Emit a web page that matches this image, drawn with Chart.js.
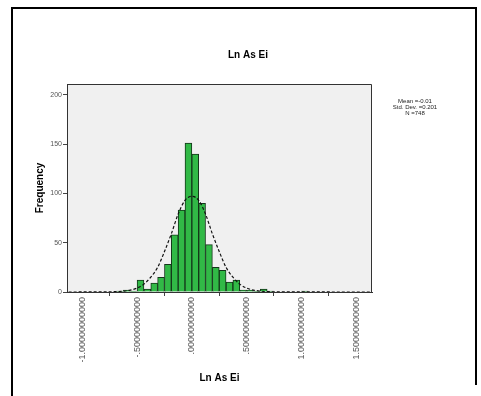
<!DOCTYPE html>
<html>
<head>
<title>Ln As Ei</title>
<script src="https://cdn.jsdelivr.net/npm/chart.js@4.4.0/dist/chart.umd.min.js"></script>
<style>
	body { margin: 0; background: #fff; }
	#wrap { position: relative; width: 481px; height: 396px; }
</style>
</head>
<body>
<div id="wrap"><canvas id="myChart" width="481" height="396"></canvas></div>
<script>
// histogram bins (left edge) and their frequencies
const binWidth = 0.0625;
const binStart = [-0.6875, -0.625, -0.5625, -0.5, -0.4375, -0.375, -0.3125, -0.25, -0.1875, -0.125, -0.0625, 0,
	0.0625, 0.125, 0.1875, 0.25, 0.3125, 0.375, 0.4375, 0.5, 0.5625, 0.625, 0.6875, 1.0];
const counts = [1, 2, 1, 12, 3, 9, 15, 28, 58, 83, 151, 140,
	90, 48, 25, 22, 10, 12, 2, 2, 1, 3, 1, 1];

// normal curve
const curveX = [-1.125, -0.75, -0.6875, -0.625, -0.5625, -0.5, -0.4375, -0.375, -0.3125, -0.25, -0.1875, -0.125, -0.0625, 0,
	0.0625, 0.125, 0.1875, 0.25, 0.3125, 0.375, 0.4375, 0.5, 0.5625, 0.625, 0.6875, 0.75, 1.625];
const curveY = [0, 0.2, 0.4, 0.9, 1.9, 4, 8, 15, 25, 41, 59, 79, 93, 97,
	93, 79, 59, 41, 25, 15, 8, 4, 1.9, 0.9, 0.4, 0.2, 0];

const xTicks = [-1, -0.5, 0, 0.5, 1, 1.5];
const xTickLabels = ["-1.00000000000", "-.50000000000", ".00000000000", ".50000000000", "1.00000000000", "1.50000000000"];
const yTicks = [0, 50, 100, 150, 200];
const statLines = ["Mean =-0.01", "Std. Dev. =0.201", "N =748"];

const FONT = "'Liberation Sans', Arial, sans-serif";

// tło, ramki i napisy
const framePlugin = {
	id: 'frame',
	beforeDraw(chart) {
		const ctx = chart.ctx, a = chart.chartArea;
		ctx.save();
		ctx.fillStyle = '#fff';
		ctx.fillRect(0, 0, chart.width, chart.height);
		ctx.fillStyle = '#f0f0f0';
		ctx.fillRect(a.left, a.top, a.right - a.left, a.bottom - a.top);
		// outer frame
		ctx.strokeStyle = '#000';
		ctx.lineWidth = 2;
		ctx.beginPath();
		ctx.moveTo(12, 396);
		ctx.lineTo(12, 8);
		ctx.lineTo(476, 8);
		ctx.lineTo(476, 385);
		ctx.stroke();
		ctx.restore();
	},
	afterDraw(chart) {
		const ctx = chart.ctx, a = chart.chartArea;
		ctx.save();
		ctx.strokeStyle = '#333';
		ctx.lineWidth = 1;
		ctx.beginPath();
		ctx.moveTo(a.left, a.top + 0.5);
		ctx.lineTo(a.right - 0.5, a.top + 0.5);
		ctx.lineTo(a.right - 0.5, a.bottom);
		ctx.stroke();
		ctx.fillStyle = '#000';
		ctx.textAlign = 'center';
		ctx.textBaseline = 'middle';
		ctx.font = 'bold 10px ' + FONT;
		ctx.fillText('Ln As Ei', 248, 55);
		ctx.font = '6px ' + FONT;
		ctx.fillStyle = '#222';
		statLines.forEach((t, i) => ctx.fillText(t, 415, 101 + i * 6));
		ctx.restore();
	}
};

var chart = new Chart(document.getElementById('myChart').getContext('2d'), {
	type: 'bar',
	data: {
		datasets: [{
			type: 'line',
			data: curveX.map((x, i) => ({ x: x, y: curveY[i] })),
			borderColor: '#111',
			borderWidth: 1.2,
			borderDash: [3, 2],
			pointRadius: 0,
			cubicInterpolationMode: 'monotone',
			fill: false,
			order: 0
		},
		{
			type: 'bar',
			data: binStart.map((s, i) => ({ x: s + binWidth / 2, y: counts[i] })),
			backgroundColor: '#31b946',
			borderColor: '#14361a',
			borderWidth: 1,
			barPercentage: 1,
			categoryPercentage: 1,
			order: 1
		}]
	},
	options: {
		responsive: false,
		animation: false,
		layout: { padding: { left: 0, top: 84, right: 109, bottom: 0 } },
		plugins: {
			legend: { display: false },
			tooltip: { enabled: false }
		},
		scales: {
			x: {
				type: 'linear',
				min: -1.14,
				max: 1.645,
				offset: false,
				afterBuildTicks: s => { s.ticks = xTicks.map(v => ({ value: v })); },
				afterFit: s => { s.height = 104; },
				ticks: {
					autoSkip: false,
					minRotation: 90,
					maxRotation: 90,
					padding: 1,
					color: '#555',
					font: { size: 9, family: FONT },
					callback: (v, i) => xTickLabels[i]
				},
				grid: { drawOnChartArea: false, tickLength: 4, color: '#444' },
				border: { display: true, color: '#333', width: 1 },
				title: {
					display: true,
					text: 'Ln As Ei',
					color: '#000',
					font: { size: 10, weight: 'bold', family: FONT },
					padding: { top: 0, bottom: 12 }
				}
			},
			y: {
				min: 0,
				max: 211,
				afterBuildTicks: s => { s.ticks = yTicks.map(v => ({ value: v })); },
				afterFit: s => { s.width = 67; },
				ticks: {
					padding: 1,
					color: '#555',
					font: { size: 7, family: FONT }
				},
				grid: { drawOnChartArea: false, tickLength: 4, color: '#444' },
				border: { display: true, color: '#333', width: 1 },
				title: {
					display: true,
					text: 'Frequency',
					color: '#000',
					font: { size: 10, weight: 'bold', family: FONT },
					padding: { top: 34, bottom: 0 }
				}
			}
		}
	},
	plugins: [framePlugin]
});
</script>
</body>
</html>
